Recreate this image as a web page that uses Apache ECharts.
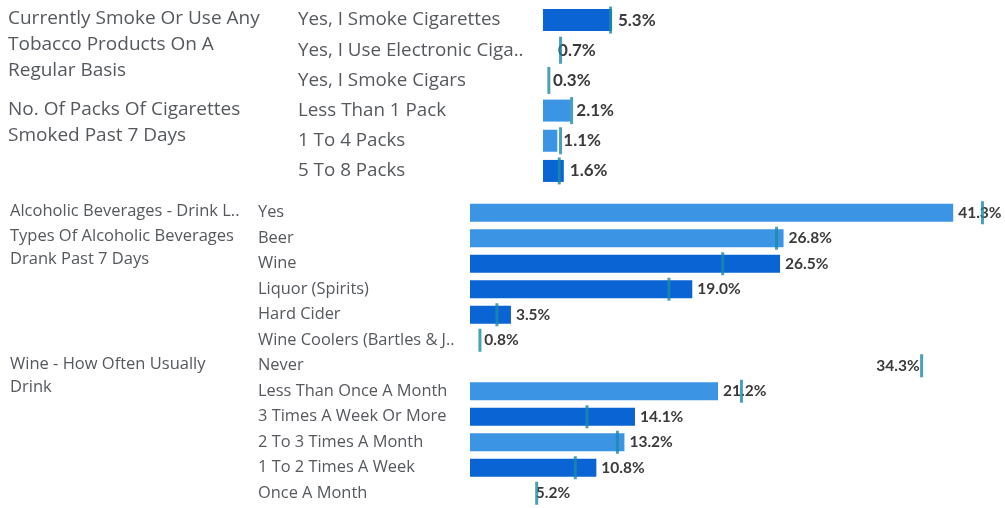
<!DOCTYPE html>
<html>
<head>
<meta charset="utf-8">
<script src="https://cdn.jsdelivr.net/npm/echarts@6/dist/echarts.min.js"></script>
<style>
  html, body { margin: 0; background: #fff; }
  #chart { width: 1005px; height: 508px; }
</style>
</head>
<body>
<div id="chart"></div>
<script>
var chart = echarts.init(document.getElementById("chart"));

// tobacco block
var smokeCats = ["Yes, I Smoke Cigarettes", "Yes, I Use Electronic Ciga..", "Yes, I Smoke Cigars",
  "Less Than 1 Pack", "1 To 4 Packs", "5 To 8 Packs"];
var smokeVals = [5.3, 0.7, 0.3, 2.1, 1.1, 1.6];
var smokeMarks = [5.2, 1.35, 0.45, 2.2, 1.35, 1.25];
var smokeShade = ["dark", "none", "none", "light", "light", "dark"];
var smokeGroups = [
  { text: "Currently Smoke Or Use Any\nTobacco Products On A\nRegular Basis", first: "Yes, I Smoke Cigarettes" },
  { text: "No. Of Packs Of Cigarettes\nSmoked Past 7 Days", first: "Less Than 1 Pack" }
];

// alcohol block
var drinkCats = ["Yes", "Beer", "Wine", "Liquor (Spirits)", "Hard Cider", "Wine Coolers (Bartles & J..",
  "Never", "Less Than Once A Month", "3 Times A Week Or More", "2 To 3 Times A Month",
  "1 To 2 Times A Week", "Once A Month"];
var drinkVals = [41.3, 26.8, 26.5, 19.0, 3.5, 0.8, 34.3, 21.2, 14.1, 13.2, 10.8, 5.2];
var drinkMarks = [43.8, 26.2, 21.6, 17.0, 2.3, 0.85, 38.6, 23.2, 10.0, 12.6, 9.0, 5.7];
var drinkShade = ["light", "light", "dark", "dark", "dark", "none",
  "none", "light", "dark", "light", "dark", "none"];
var drinkGroups = [
  { text: "Alcoholic Beverages - Drink L..", first: "Yes" },
  { text: "Types Of Alcoholic Beverages\nDrank Past 7 Days", first: "Beer" },
  { text: "Wine - How Often Usually\nDrink", first: "Never" }
];

var shadeColor = { dark: "#0b64d3", light: "#3b95e4", none: "rgba(0,0,0,0)" };
var textGrey = "#55585d";
var font = "Open Sans";
var numFont = "Lato";

function barData(vals, shade) {
  return vals.map(function (v, i) {
    return { value: v, itemStyle: { color: shadeColor[shade[i]] } };
  });
}

chart.setOption({
  animation: false,
  textStyle: { fontFamily: font },
  grid: [
    { left: 543, top: 5, width: 13 * 30, height: 181 },
    { left: 470, top: 200, width: 11.7 * 45, height: 306 }
  ],
  xAxis: [
    { gridIndex: 0, type: "value", min: 0, max: 30, show: false },
    { gridIndex: 1, type: "value", min: 0, max: 45, show: false }
  ],
  yAxis: [
    {
      gridIndex: 0, type: "category", data: smokeCats, inverse: true,
      axisLine: { show: false }, axisTick: { show: false },
      axisLabel: { align: "left", margin: 543 - 298, fontSize: 18.8, color: textGrey, fontFamily: font }
    },
    {
      gridIndex: 1, type: "category", data: drinkCats, inverse: true,
      axisLine: { show: false }, axisTick: { show: false },
      axisLabel: { align: "left", margin: 470 - 258, fontSize: 16.4, color: textGrey, fontFamily: font }
    }
  ],
  series: [
    {
      type: "bar", xAxisIndex: 0, yAxisIndex: 0, barWidth: 22, z: 2,
      data: barData(smokeVals, smokeShade),
      label: {
        show: true, position: "right", distance: 6, fontSize: 17, fontWeight: "bold",
        color: "#3a3a3a", fontFamily: numFont,
        formatter: function (p) { return p.value.toFixed(1) + "%"; }
      }
    },
    {
      type: "scatter", xAxisIndex: 0, yAxisIndex: 0, z: 5,
      symbol: "rect", symbolSize: [3, 27],
      itemStyle: { color: "#1b8aa8" },
      data: smokeMarks.map(function (m, i) { return [m, smokeCats[i]]; })
    },
    {
      type: "bar", xAxisIndex: 1, yAxisIndex: 1, barWidth: 18, z: 2,
      data: barData(drinkVals, drinkShade),
      label: {
        show: true, position: "right", distance: 5, fontSize: 15.5, fontWeight: "bold",
        color: "#3a3a3a", fontFamily: numFont,
        formatter: function (p) { return p.value.toFixed(1) + "%"; }
      }
    },
    {
      type: "scatter", xAxisIndex: 1, yAxisIndex: 1, z: 5,
      symbol: "rect", symbolSize: [3, 23],
      itemStyle: { color: "#1b8aa8" },
      data: drinkMarks.map(function (m, i) { return [m, drinkCats[i]]; })
    }
  ]
});

// group headings placed on the row of their first category
var headings = [];
smokeGroups.forEach(function (g) {
  var y = chart.convertToPixel({ yAxisIndex: 0 }, g.first);
  headings.push({
    type: "text", left: 8, top: y - 14,
    style: { text: g.text, font: "19px '" + font + "'", lineHeight: 26, fill: textGrey }
  });
});
drinkGroups.forEach(function (g) {
  var y = chart.convertToPixel({ yAxisIndex: 1 }, g.first);
  headings.push({
    type: "text", left: 10, top: y - 13,
    style: { text: g.text, font: "16.5px '" + font + "'", lineHeight: 23, fill: textGrey }
  });
});
chart.setOption({ graphic: headings });
</script>
</body>
</html>
